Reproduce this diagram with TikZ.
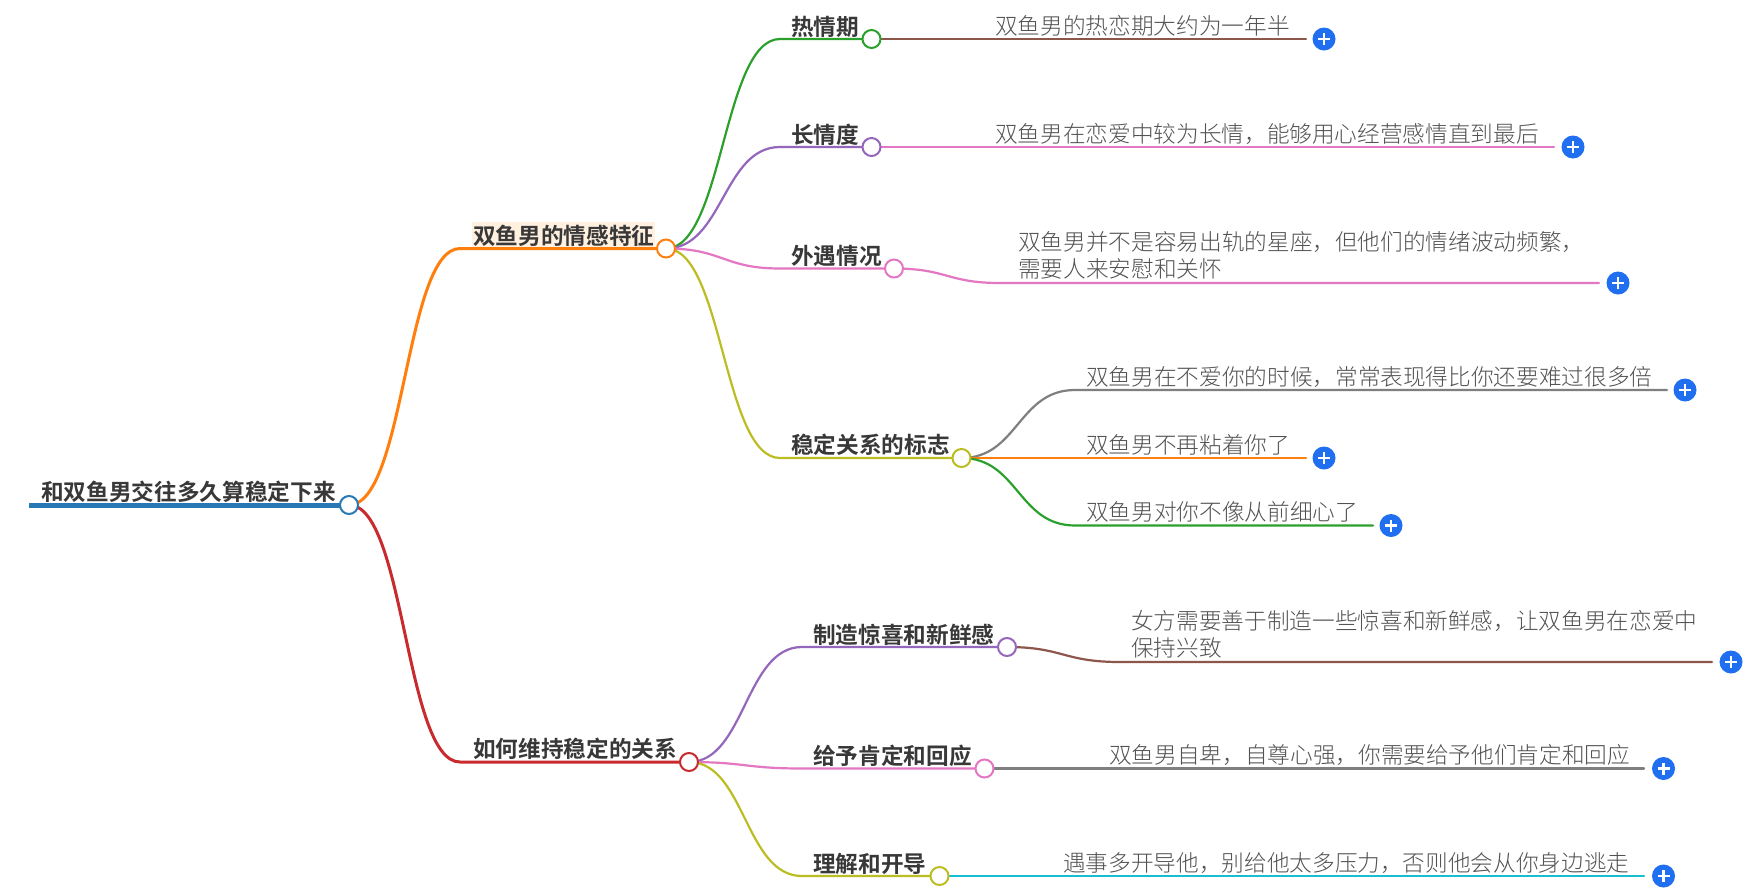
\documentclass[tikz,border=0pt]{standalone}
\usepackage{fontspec}
\setmainfont{Noto Sans CJK SC}
\newfontfamily\cjkbold{Noto Sans CJK SC Bold}
\newfontfamily\cjklight{Noto Sans CJK SC Light}
\definecolor{cblue}{HTML}{2878B5}
\definecolor{corange}{HTML}{FF7F0E}
\definecolor{cred}{HTML}{C92A2E}
\definecolor{cgreen}{HTML}{2CA02C}
\definecolor{cpurple}{HTML}{9467BD}
\definecolor{cbrown}{HTML}{8C564B}
\definecolor{cpink}{HTML}{E377C2}
\definecolor{cgray}{HTML}{7F7F7F}
\definecolor{colive}{HTML}{BCBD22}
\definecolor{ccyan}{HTML}{17BECF}
\definecolor{cplus}{HTML}{1F6FF0}
\tikzset{
  dot/.style={circle,draw=#1,fill=white,line width=2pt,minimum size=18pt,inner sep=0pt},
  link/.style={draw=#1,line width=2.2pt,line cap=round},
  headtext/.style={anchor=base west,inner sep=0pt,font=\fontsize{22.65pt}{27pt}\cjkbold,text=black!78},
  leaftext/.style={anchor=base west,inner sep=0pt,font=\fontsize{22.65pt}{27pt}\cjklight,text=black!68},
  plusdot/.style={circle,fill=cplus,minimum size=23pt,inner sep=0pt},
  plusbar/.style={draw=white,line width=2.2pt},
}
\newcommand{\plusmark}[2]{%
  \node[plusdot] (#1) at #2 {};
  \draw[plusbar] ([xshift=-6pt]#1.center) -- ([xshift=6pt]#1.center);
  \draw[plusbar] ([yshift=-6pt]#1.center) -- ([yshift=6pt]#1.center);
}
\begin{document}
\begin{tikzpicture}[x=1pt,y=-1pt]
\useasboundingbox (0,0) rectangle (1759,892);
\fill[white] (0,0) rectangle (1759,892);

% circles positions
\coordinate (rootc) at (349,505);
\coordinate (ac) at (666,248.5);
\coordinate (bc) at (689,762);
\coordinate (a1c) at (871.5,39);
\coordinate (a2c) at (871.5,147);
\coordinate (a3c) at (894,268.5);
\coordinate (a4c) at (961.5,458);
\coordinate (b1c) at (1007,647);
\coordinate (b2c) at (984.5,768.5);
\coordinate (b3c) at (939.5,876);

% bends
\coordinate (ab) at (460,248.5);
\coordinate (bb) at (460,762);
\coordinate (a1b) at (780,39);
\coordinate (a2b) at (780,147);
\coordinate (a3b) at (780,268.5);
\coordinate (a4b) at (780,458);
\coordinate (b1b) at (802,647);
\coordinate (b2b) at (802,768.5);
\coordinate (b3b) at (802,876);
\coordinate (l1b) at (985,39);
\coordinate (l1e) at (1306,39);
\coordinate (l2e) at (1554,147);
\coordinate (l3b) at (1000,283);
\coordinate (l3e) at (1599,283);
\coordinate (s1b) at (1075,390);
\coordinate (s1e) at (1667,390);
\coordinate (s2e) at (1306,458);
\coordinate (s3b) at (1075,525.5);
\coordinate (s3e) at (1373,525.5);
\coordinate (l5b) at (1120,662);
\coordinate (l5e) at (1712,662);
\coordinate (l6e) at (1644,768.5);
\coordinate (l7e) at (1644,876);
\coordinate (rootl) at (29,505);

% highlight behind first branch label
\fill[orange!12] (472,222) rectangle (655,248);

% links
\draw[link=cblue,line width=5pt,line cap=butt] (rootl) -- (rootc);
\draw[link=corange,line width=3pt] (rootc) .. controls (405,505) and (405,248.5) .. (ab) -- (ac);
\draw[link=cred,line width=3pt] (rootc) .. controls (405,505) and (405,762) .. (bb) -- (bc);
\draw[link=cgreen] (ac) .. controls (723,248.5) and (723,39) .. (a1b) -- (a1c);
\draw[link=cpurple] (ac) .. controls (723,248.5) and (723,147) .. (a2b) -- (a2c);
\draw[link=cpink] (ac) .. controls (723,248.5) and (723,268.5) .. (a3b) -- (a3c);
\draw[link=colive] (ac) .. controls (723,248.5) and (723,458) .. (a4b) -- (a4c);
\draw[link=cpurple] (bc) .. controls (745,762) and (745,647) .. (b1b) -- (b1c);
\draw[link=cpink] (bc) .. controls (745,762) and (745,768.5) .. (b2b) -- (b2c);
\draw[link=colive] (bc) .. controls (745,762) and (745,876) .. (b3b) -- (b3c);
\draw[link=cbrown] (a1c) -- (l1b) -- (l1e);
\draw[link=cpink] (a2c) -- (l2e);
\draw[link=cpink] (a3c) .. controls (947,268.5) and (947,283) .. (l3b) -- (l3e);
\draw[link=cgray] (a4c) .. controls (1018,458) and (1018,390) .. (s1b) -- (s1e);
\draw[link=corange] (a4c) -- (s2e);
\draw[link=cgreen] (a4c) .. controls (1018,458) and (1018,525.5) .. (s3b) -- (s3e);
\draw[link=cbrown] (b1c) .. controls (1063,647) and (1063,662) .. (l5b) -- (l5e);
\draw[link=cgray] (b2c) -- (l6e);
\draw[link=ccyan] (b3c) -- (l7e);

% circles
\node[dot=cblue] (root) at (rootc) {};
\node[dot=corange] (a) at (ac) {};
\node[dot=cred] (b) at (bc) {};
\node[dot=cgreen] (a1) at (a1c) {};
\node[dot=cpurple] (a2) at (a2c) {};
\node[dot=cpink] (a3) at (a3c) {};
\node[dot=colive] (a4) at (a4c) {};
\node[dot=cpurple] (b1) at (b1c) {};
\node[dot=cpink] (b2) at (b2c) {};
\node[dot=colive] (b3) at (b3c) {};

% labels
\node[headtext] (troot) at (41,500.5) {和双鱼男交往多久算稳定下来};
\node[headtext] (ta) at (473,244) {双鱼男的情感特征};
\node[headtext] (tb) at (473,757) {如何维持稳定的关系};
\node[headtext] (ta1) at (791,35) {热情期};
\node[headtext] (ta2) at (791,143) {长情度};
\node[headtext] (ta3) at (791,264) {外遇情况};
\node[headtext] (ta4) at (791,453) {稳定关系的标志};
\node[headtext] (tb1) at (813,643) {制造惊喜和新鲜感};
\node[headtext] (tb2) at (813,764) {给予肯定和回应};
\node[headtext] (tb3) at (813,872) {理解和开导};

\node[leaftext] (l1) at (995,34) {双鱼男的热恋期大约为一年半};
\node[leaftext] (l2) at (995,142) {双鱼男在恋爱中较为长情，能够用心经营感情直到最后};
\node[leaftext] (l3a) at (1018,250) {双鱼男并不是容易出轨的星座，但他们的情绪波动频繁，};
\node[leaftext] (l3) at (1018,277) {需要人来安慰和关怀};
\node[leaftext] (s1) at (1086,385) {双鱼男在不爱你的时候，常常表现得比你还要难过很多倍};
\node[leaftext] (s2) at (1086,453) {双鱼男不再粘着你了};
\node[leaftext] (s3) at (1086,520.5) {双鱼男对你不像从前细心了};
\node[leaftext] (l5a) at (1131,629) {女方需要善于制造一些惊喜和新鲜感，让双鱼男在恋爱中};
\node[leaftext] (l5) at (1131,656) {保持兴致};
\node[leaftext] (l6) at (1109,763) {双鱼男自卑，自尊心强，你需要给予他们肯定和回应};
\node[leaftext] (l7) at (1063,871) {遇事多开导他，别给他太多压力，否则他会从你身边逃走};

% plus buttons
\plusmark{p1}{(1324,39)}
\plusmark{p2}{(1573,147)}
\plusmark{p3}{(1618,283)}
\plusmark{p4}{(1685,390)}
\plusmark{p5}{(1324,458)}
\plusmark{p6}{(1391,525.5)}
\plusmark{p7}{(1731,662)}
\plusmark{p8}{(1663.5,768.5)}
\plusmark{p9}{(1663.5,876)}
\end{tikzpicture}
\end{document}
